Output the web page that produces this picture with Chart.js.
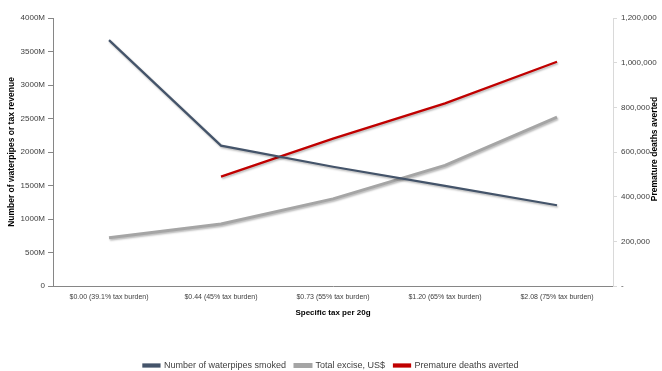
<!DOCTYPE html>
<html>
<head>
<meta charset="utf-8">
<script src="https://cdn.jsdelivr.net/npm/chart.js@4/dist/chart.umd.min.js"></script>
<style>
  html, body { margin: 0; padding: 0; background: #fff; }
  #c { display: block; }
</style>
</head>
<body>
<canvas id="c" width="662" height="371"></canvas>
<script>
// categories (specific tax per 20g)
const taxLevels = ['$0.00 (39.1% tax burden)', '$0.44 (45% tax burden)', '$0.73 (55% tax burden)', '$1.20 (65% tax burden)', '$2.08 (75% tax burden)'];

// millions
const waterpipesSmoked = [3670, 2095, 1780, 1495, 1205];
const totalExcise = [720, 925, 1300, 1800, 2520];
// right axis
const deathsAverted = [null, 490000, 660000, 818000, 1004000];

const leftTicks = [0, 500, 1000, 1500, 2000, 2500, 3000, 3500, 4000];
const rightTicks = [0, 200000, 400000, 600000, 800000, 1000000, 1200000];

const FONT = "'Liberation Sans', Arial, sans-serif";
const TXT = '#404040';

// light shadow under the lines, like the office chart
const lineShadow = {
  id: 'lineShadow',
  beforeDatasetDraw(chart) {
    const ctx = chart.ctx;
    ctx.save();
    ctx.shadowColor = 'rgba(0,0,0,0.28)';
    ctx.shadowBlur = 2;
    ctx.shadowOffsetX = 1;
    ctx.shadowOffsetY = 1.5;
  },
  afterDatasetDraw(chart) {
    chart.ctx.restore();
  }
};

// right title reads bottom-to-top, chart.js would flip it
const rightTitle = {
  id: 'rightTitle',
  afterDraw(chart) {
    const ctx = chart.ctx;
    const a = chart.chartArea;
    ctx.save();
    ctx.translate(655, (a.top + a.bottom) / 2 - 3);
    ctx.rotate(-Math.PI / 2);
    ctx.font = 'bold 8.5px ' + FONT;
    ctx.fillStyle = '#000';
    ctx.textAlign = 'center';
    ctx.textBaseline = 'middle';
    ctx.fillText('Premature deaths averted', 0, 0);
    ctx.restore();
  }
};

new Chart(document.getElementById('c'), {
  type: 'line',
  data: {
    labels: taxLevels,
    datasets: [
      {
        label: 'Number of waterpipes smoked',
        data: waterpipesSmoked,
        borderColor: '#44546A',
        backgroundColor: '#44546A',
        borderWidth: 2.25,
        yAxisID: 'y'
      },
      {
        label: 'Total excise, US$',
        data: totalExcise,
        borderColor: '#A5A5A5',
        backgroundColor: '#A5A5A5',
        borderWidth: 3,
        yAxisID: 'y'
      },
      {
        label: 'Premature deaths averted',
        data: deathsAverted,
        borderColor: '#C00000',
        backgroundColor: '#C00000',
        borderWidth: 2.25,
        yAxisID: 'y1'
      }
    ]
  },
  options: {
    responsive: false,
    devicePixelRatio: 1,
    animation: false,
    elements: { point: { radius: 0, hoverRadius: 0 }, line: { tension: 0 } },
    layout: { padding: { top: 18, left: 0, right: 0, bottom: -9 } },
    plugins: {
      tooltip: { enabled: false },
      legend: {
        position: 'bottom',
        labels: {
          font: { family: FONT, size: 9 },
          color: TXT,
          boxWidth: 16,
          boxHeight: 2,
          padding: 9
        }
      }
    },
    scales: {
      x: {
        offset: true,
        grid: { display: false, drawTicks: false },
        border: { color: '#868686', width: 1 },
        ticks: {
          font: { family: FONT, size: 7 },
          color: TXT,
          maxRotation: 0,
          autoSkip: false,
          padding: 7
        },
        title: {
          display: true,
          text: 'Specific tax per 20g',
          font: { family: FONT, size: 8, weight: 'bold' },
          color: '#000',
          padding: { top: 2, bottom: 34 }
        },
        afterFit(s) { s.height = 66; }
      },
      y: {
        position: 'left',
        min: 0,
        max: 4000,
        afterBuildTicks(s) { s.ticks = leftTicks.map(v => ({ value: v })); },
        grid: { drawOnChartArea: false, color: '#868686', tickLength: 5 },
        border: { color: '#868686', width: 1 },
        ticks: {
          font: { family: FONT, size: 8 },
          color: TXT,
          padding: 3,
          callback: v => v === 0 ? '0' : v + 'M'
        },
        title: {
          display: true,
          text: 'Number of waterpipes or tax revenue',
          font: { family: FONT, size: 8.5, weight: 'bold' },
          color: '#000',
          padding: { top: 7, bottom: 0 }
        },
        afterFit(s) { s.width = 53; }
      },
      y1: {
        position: 'right',
        min: 0,
        max: 1200000,
        afterBuildTicks(s) { s.ticks = rightTicks.map(v => ({ value: v })); },
        grid: { drawOnChartArea: false, color: '#d9d9d9', tickLength: 4 },
        border: { color: '#d9d9d9', width: 1 },
        ticks: {
          font: { family: FONT, size: 8 },
          color: TXT,
          padding: 4,
          callback: v => v === 0 ? '-' : v.toLocaleString('en-US')
        },
        afterFit(s) { s.width = 49; }
      }
    }
  },
  plugins: [lineShadow, rightTitle]
});
</script>
</body>
</html>
